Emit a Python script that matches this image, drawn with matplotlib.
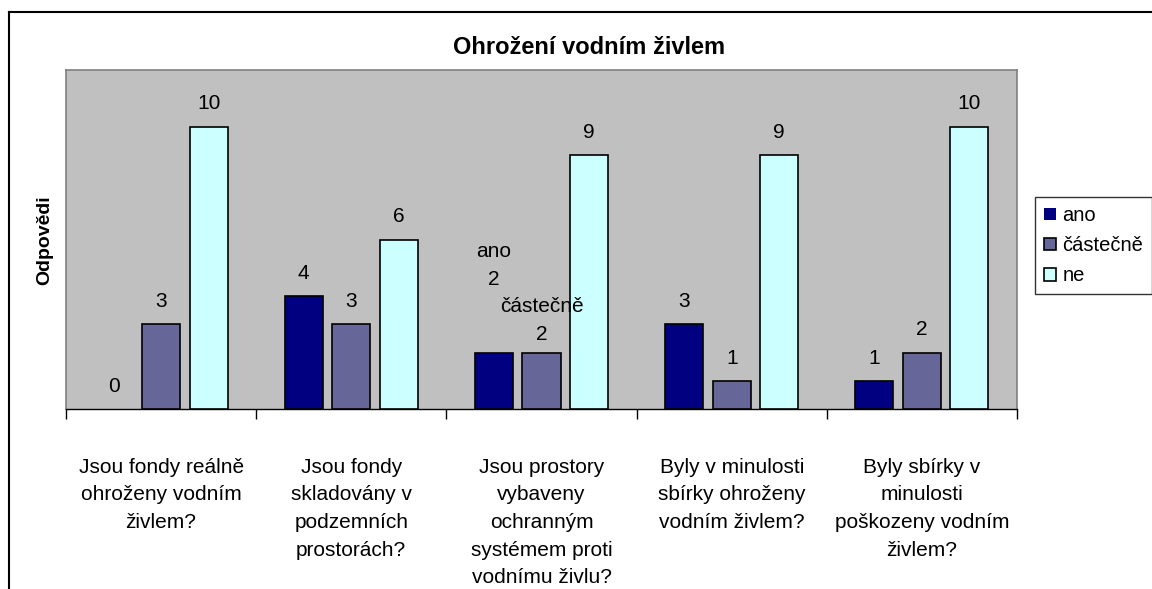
import matplotlib
matplotlib.use("Agg")
import matplotlib.pyplot as plt
from matplotlib.lines import Line2D
import numpy as np

plt.rcParams['font.family'] = ['Liberation Sans', 'DejaVu Sans']

title = "Ohrožení vodním živlem"
ylabel = "Odpovědi"
categories = [
    "Jsou fondy reálně\nohroženy vodním\nživlem?",
    "Jsou fondy\nskladovány v\npodzemních\nprostorách?",
    "Jsou prostory\nvybaveny\nochranným\nsystémem proti\nvodnímu živlu?",
    "Byly v minulosti\nsbírky ohroženy\nvodním živlem?",
    "Byly sbírky v\nminulosti\npoškozeny vodním\nživlem?",
]
series_names = ["ano", "částečně", "ne"]
ano = [0, 4, 2, 3, 1]
castecne = [3, 3, 2, 1, 2]
ne = [10, 6, 9, 9, 10]
colors = ["#000080", "#666699", "#CCFFFF"]

W, H = 1152, 589
fig = plt.figure(figsize=(W / 100, H / 100), dpi=100)
ax = fig.add_axes([66 / W, 1 - 409 / H, (1017 - 66) / W, (409 - 70) / H])
ax.set_facecolor("#C0C0C0")

x = np.arange(len(categories))
width = 0.2
offsets = [-0.25, 0, 0.25]
all_vals = [ano, castecne, ne]
for vals, off, col, name in zip(all_vals, offsets, colors, series_names):
    b = ax.bar(x + off, vals, width, color=col, edgecolor="black", linewidth=1.2, label=name, zorder=3)
    for rect, v in zip(b, vals):
        if v == 0:
            rect.set_linewidth(0)

# data labels (group 3 shows series name too, ano label pushed up to avoid overlap)
for si, (vals, off, name) in enumerate(zip(all_vals, offsets, series_names)):
    for ci, v in enumerate(vals):
        dy = 9.5
        if ci == 2 and si < 2:
            txt = f"{name}\n{v}"
            dy = 6 if si == 1 else 46
        else:
            txt = f"{v}"
        ax.annotate(txt, xy=(x[ci] + off, v), xytext=(0, dy), textcoords="offset points",
                    ha="center", va="bottom", fontsize=15, linespacing=1.58, zorder=4)

ax.set_xlim(-0.5, len(categories) - 0.5)
ax.set_ylim(0, 12)
ax.set_yticks([])
ax.set_xticks(x)
ax.set_xticklabels(categories, fontsize=15, linespacing=1.58)
ax.tick_params(axis="x", which="major", length=0, pad=35)
ax.set_xticks(np.arange(-0.5, len(categories), 1.0), minor=True)
ax.tick_params(axis="x", which="minor", length=7, width=1, color="black", direction="out")

for s in ["top", "left", "right"]:
    ax.spines[s].set_color("#808080")
    ax.spines[s].set_linewidth(1.2)
ax.spines["bottom"].set_color("black")
ax.spines["bottom"].set_linewidth(1)

fig.text(589 / W, 1 - 47 / H, title, ha="center", va="center", fontsize=17, fontweight="bold")
fig.text(45 / W, 1 - 240 / H, ylabel, ha="center", va="center", fontsize=14, fontweight="bold", rotation=90)

leg = fig.legend(loc="upper left", bbox_to_anchor=(1035 / W, 1 - 197 / H), fontsize=14.5,
                 frameon=True, fancybox=False, edgecolor="black", handlelength=0.6, handleheight=0.6,
                 handletextpad=0.3, borderpad=0.45, labelspacing=0.55, borderaxespad=0)
leg.get_frame().set_linewidth(1)

# outer chart border
fig.add_artist(Line2D([9 / W, 1.0], [1 - 12 / H, 1 - 12 / H], transform=fig.transFigure, color="black", lw=1.5))
fig.add_artist(Line2D([9 / W, 9 / W], [0, 1 - 12 / H], transform=fig.transFigure, color="black", lw=1.5))

fig.savefig("out.png", dpi=100)
